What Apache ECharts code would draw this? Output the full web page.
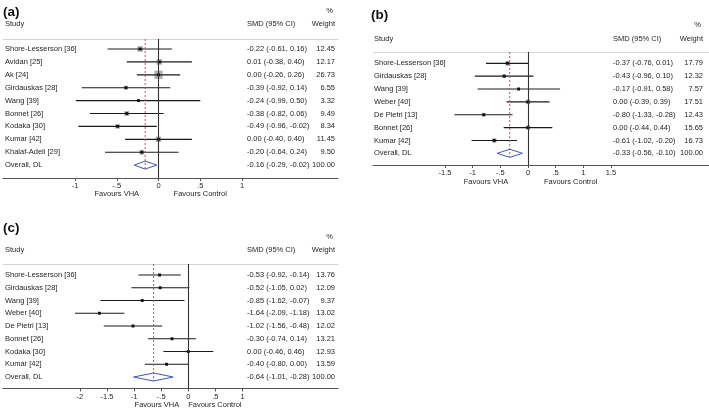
<!DOCTYPE html>
<html><head><meta charset="utf-8">
<script src="https://cdn.jsdelivr.net/npm/echarts@6/dist/echarts.min.js"></script>
<style>html,body{margin:0;padding:0;background:#fff}#c{width:709px;height:410px}</style>
</head><body><div id="c"></div>
<script>
// ---------- DATA ----------
const studiesA = ["Shore-Lesserson [36]","Avidan [25]","Ak [24]","Girdauskas [28]","Wang [39]","Bonnet [26]","Kodaka [30]","Kumar [42]","Khalaf-Adeli [29]"];
const smdA = [-0.22, 0.01, 0.00, -0.39, -0.24, -0.38, -0.49, 0.00, -0.20];
const loA  = [-0.61, -0.38, -0.26, -0.92, -0.99, -0.82, -0.96, -0.40, -0.64];
const hiA  = [0.16, 0.40, 0.26, 0.14, 0.50, 0.06, -0.02, 0.40, 0.24];
const wA   = [12.45, 12.17, 26.73, 6.55, 3.32, 9.49, 8.34, 11.45, 9.50];
const overallA = [-0.16, -0.29, -0.02];
const ticksA = [-1, -0.5, 0, 0.5, 1];

const studiesB = ["Shore-Lesserson [36]","Girdauskas [28]","Wang [39]","Weber [40]","De Pietri [13]","Bonnet [26]","Kumar [42]"];
const smdB = [-0.37, -0.43, -0.17, 0.00, -0.80, 0.00, -0.61];
const loB  = [-0.76, -0.96, -0.91, -0.39, -1.33, -0.44, -1.02];
const hiB  = [0.01, 0.10, 0.58, 0.39, -0.28, 0.44, -0.20];
const wB   = [17.79, 12.32, 7.57, 17.51, 12.43, 15.65, 16.73];
const overallB = [-0.33, -0.56, -0.10];
const ticksB = [-1.5, -1, -0.5, 0, 0.5, 1, 1.5];

const studiesC = ["Shore-Lesserson [36]","Girdauskas [28]","Wang [39]","Weber [40]","De Pietri [13]","Bonnet [26]","Kodaka [30]","Kumar [42]"];
const smdC = [-0.53, -0.52, -0.85, -1.64, -1.02, -0.30, 0.00, -0.40];
const loC  = [-0.92, -1.05, -1.62, -2.09, -1.56, -0.74, -0.46, -0.80];
const hiC  = [-0.14, 0.02, -0.07, -1.18, -0.48, 0.14, 0.46, 0.00];
const wC   = [13.76, 12.09, 9.37, 13.02, 12.02, 13.21, 12.93, 13.59];
const overallC = [-0.64, -1.01, -0.28];
const ticksC = [-2, -1.5, -1, -0.5, 0, 0.5, 1];

const overallLabel = "Overall, DL";
const headStudy = "Study", headSmd = "SMD (95% CI)", headW = "Weight", headPct = "%";
const favLeft = "Favours VHA", favRight = "Favours Control";

// ---------- LAYOUT ----------
const FONT = '"Liberation Sans", Arial, sans-serif';
const FS = 7.5;
const TXT = '#1f1f1f';

const panels = [
  {tag:'(a)', names:studiesA, smd:smdA, lo:loA, hi:hiA, w:wA, ov:overallA, ticks:ticksA,
   left:3, right:338, top:39, bottom:178, zero:158.5, scale:83.5, row0:49, rowH:12.9,
   nameX:5, smdX:247, wX:335, tagX:3, tagY:12.5, pctY:11, headY:24, favY:194, favX:[-0.5,0.5], box:1.6},
  {tag:'(b)', names:studiesB, smd:smdB, lo:loB, hi:hiB, w:wB, ov:overallB, ticks:ticksB,
   left:373, right:709, top:52, bottom:165, zero:528, scale:55.3, row0:63.3, rowH:12.86,
   nameX:374, smdX:613, wX:703, tagX:371, tagY:15, pctY:25, headY:39, favY:182, favX:[-0.76,0.77], box:1.1},
  {tag:'(c)', names:studiesC, smd:smdC, lo:loC, hi:hiC, w:wC, ov:overallC, ticks:ticksC,
   left:3, right:338, top:264, bottom:388.5, zero:188.3, scale:54.2, row0:275, rowH:12.75,
   nameX:5, smdX:247, wX:335, tagX:3, tagY:228, pctY:237, headY:250, favY:405, favX:[-0.58,0.49], box:0.8}
];

function fmtTick(v){
  if (v === 0) return '0';
  let s = String(v);
  s = s.replace(/^0\./,'.').replace(/^-0\./,'-.');
  return s;
}
function f2(v){ return v.toFixed(2); }

const grids=[], xAxes=[], yAxes=[], series=[], graphics=[];
panels.forEach((P, i) => {
  const xmin = (P.left - P.zero)/P.scale, xmax = (P.right - P.zero)/P.scale;
  const ymin = (P.top - P.row0)/P.rowH, ymax = (P.bottom - P.row0)/P.rowH;
  P.xmin=xmin; P.xmax=xmax; P.ymin=ymin; P.ymax=ymax;
  grids.push({left:P.left, top:P.top, width:P.right-P.left, height:P.bottom-P.top, containLabel:false});
  xAxes.push({type:'value', gridIndex:i, position:'bottom', min:xmin, max:xmax,
    axisLine:{show:true, onZero:false, lineStyle:{color:'#555', width:1.1}},
    axisTick:{show:true, customValues:P.ticks, length:3, lineStyle:{color:'#555'}},
    axisLabel:{show:true, customValues:P.ticks, formatter:fmtTick, fontSize:FS, fontFamily:FONT, color:TXT, margin:4},
    splitLine:{show:false}});
  xAxes.push({type:'value', gridIndex:i, position:'top', min:xmin, max:xmax,
    axisLine:{show:true, onZero:false, lineStyle:{color:'#d4d4d4', width:1}},
    axisTick:{show:false}, axisLabel:{show:false}, splitLine:{show:false}});
  yAxes.push({type:'value', gridIndex:i, min:ymin, max:ymax, inverse:true, show:false, splitLine:{show:false}});

  const n = P.names.length;
  const rows = P.names.map((nm, k) => [k, P.smd[k], P.lo[k], P.hi[k], P.w[k]]);
  // CI lines + weight boxes
  series.push({type:'custom', xAxisIndex:2*i, yAxisIndex:i, data:rows, silent:true, z:3,
    renderItem:(params, api) => {
      const row=api.value(0), est=api.value(1), lo=api.value(2), hi=api.value(3), w=api.value(4);
      const pL=api.coord([lo,row]), pR=api.coord([hi,row]), pE=api.coord([est,row]);
      const s=P.box*Math.sqrt(w);
      return {type:'group', children:[
        {type:'rect', shape:{x:pE[0]-s/2, y:pE[1]-s/2, width:s, height:s}, style:{fill:'#b0b0b0'}},
        {type:'line', shape:{x1:pL[0], y1:pL[1], x2:pR[0], y2:pR[1]}, style:{stroke:'#1a1a1a', lineWidth:1.15}},
        {type:'rect', shape:{x:pE[0]-1.4, y:pE[1]-1.4, width:2.8, height:2.8}, style:{fill:'#111'}}
      ]};
    },
    markLine:{silent:true, symbol:'none', label:{show:false}, lineStyle:{color:'#333', type:'solid', width:1.1},
      data:[{xAxis:0}]}
  });
  // overall diamond + dashed overall line
  series.push({type:'custom', xAxisIndex:2*i, yAxisIndex:i, data:[[n, P.ov[0], P.ov[1], P.ov[2]]], silent:true, z:4,
    renderItem:(params, api) => {
      const row=api.value(0), est=api.value(1), lo=api.value(2), hi=api.value(3);
      const pc=api.coord([est,row]), pl=api.coord([lo,row]), pr=api.coord([hi,row]);
      const pt=api.coord([est, P.ymin]);
      const h=4;
      return {type:'group', children:[
        {type:'line', shape:{x1:pt[0], y1:pt[1], x2:pc[0], y2:pc[1]+h}, style:{stroke:'#c8504a', lineWidth:1, lineDash:[2,2]}},
        {type:'polygon', shape:{points:[[pl[0],pl[1]],[pc[0],pc[1]-h],[pr[0],pr[1]],[pc[0],pc[1]+h]]},
          style:{fill:'none', stroke:'#4058b8', lineWidth:1}}
      ]};
    }
  });
  // table text
  const textRows = P.names.map((nm,k) => [k, k]).concat([[n, -1]]);
  series.push({type:'custom', xAxisIndex:2*i, yAxisIndex:i, data:textRows, silent:true, z:5,
    renderItem:(params, api) => {
      const row=api.value(0), k=api.value(1);
      const y=api.coord([0,row])[1];
      let name, smdTxt, wTxt;
      if (k < 0) { name=overallLabel; smdTxt=f2(P.ov[0])+' ('+f2(P.ov[1])+', '+f2(P.ov[2])+')'; wTxt='100.00'; }
      else { name=P.names[k]; smdTxt=f2(P.smd[k])+' ('+f2(P.lo[k])+', '+f2(P.hi[k])+')'; wTxt=f2(P.w[k]); }
      const st = {font: FS+'px '+FONT, fill:TXT, verticalAlign:'middle'};
      return {type:'group', children:[
        {type:'text', x:P.nameX, y:y, style:Object.assign({text:name, align:'left'}, st)},
        {type:'text', x:P.smdX, y:y, style:Object.assign({text:smdTxt, align:'left'}, st)},
        {type:'text', x:P.wX, y:y, style:Object.assign({text:wTxt, align:'right'}, st)}
      ]};
    }
  });
  // headers
  const hs = {font: FS+'px '+FONT, fill:TXT, verticalAlign:'middle'};
  graphics.push({type:'text', x:P.tagX, y:P.tagY, style:{text:P.tag, font:'bold 13.5px '+FONT, fill:'#111', verticalAlign:'middle'}});
  graphics.push({type:'text', x:P.nameX, y:P.headY, style:Object.assign({text:headStudy, align:'left'}, hs)});
  graphics.push({type:'text', x:P.smdX, y:P.headY, style:Object.assign({text:headSmd, align:'left'}, hs)});
  graphics.push({type:'text', x:P.wX, y:P.headY, style:Object.assign({text:headW, align:'right'}, hs)});
  graphics.push({type:'text', x:P.wX-2, y:P.pctY, style:Object.assign({text:headPct, align:'right'}, hs)});
  graphics.push({type:'text', x:P.zero+P.favX[0]*P.scale, y:P.favY, style:Object.assign({text:favLeft, align:'center'}, hs)});
  graphics.push({type:'text', x:P.zero+P.favX[1]*P.scale, y:P.favY, style:Object.assign({text:favRight, align:'center'}, hs)});
});

const chart = echarts.init(document.getElementById('c'), null, {renderer:'canvas'});
chart.setOption({animation:false, backgroundColor:'#fff', grid:grids, xAxis:xAxes, yAxis:yAxes, series:series, graphic:graphics});
</script></body></html>
